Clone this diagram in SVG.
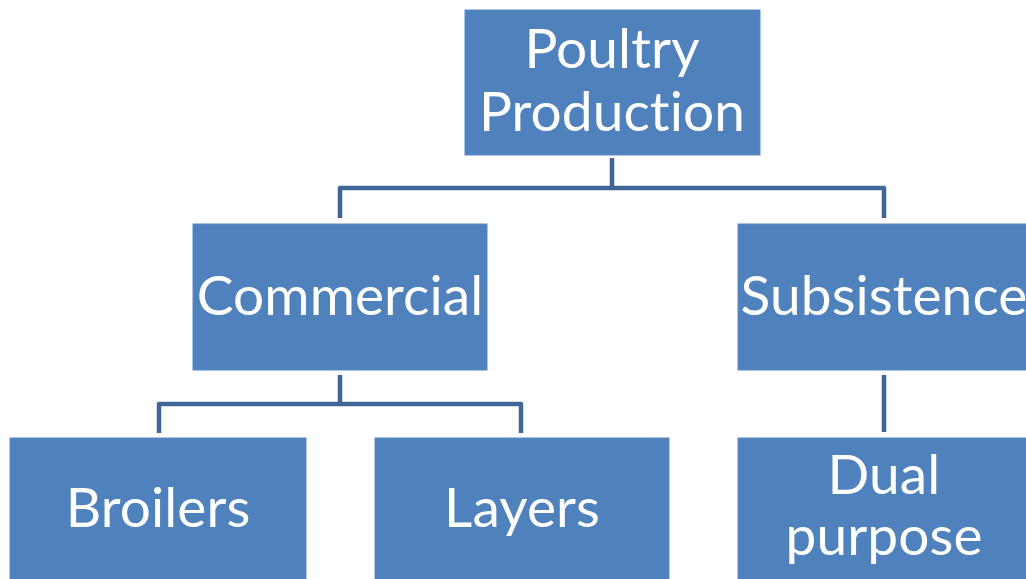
<svg xmlns="http://www.w3.org/2000/svg" width="1026" height="579" viewBox="0 0 1026 579">
<style>
.box{fill:#4f81bd;stroke:#5a8ac4;stroke-width:1}
.t{fill:#ffffff;font-family:Lato,"Open Sans","Liberation Sans",sans-serif;font-size:55px;text-anchor:middle;font-variant-ligatures:none;font-feature-settings:"liga" 0,"clig" 0,"dlig" 0;letter-spacing:0.1px}
.c{fill:none;stroke:#3e6797;stroke-width:4.5;stroke-linejoin:round}
</style>
<rect width="1026" height="579" fill="#ffffff"/>
<g id="connectors">
<path class="c" d="M612,158 V188 M340,218 V188 H884 V218"/>
<path class="c" d="M340,375 V404 M159,433 V404 H521 V433"/>
<path class="c" d="M884,375 V432"/>
</g>
<g id="poultry-production">
<rect class="box" x="465" y="10" width="295" height="145"/>
<text class="t" x="612" y="68">Poultry</text>
<text class="t" x="612" y="131">Production</text>
</g>
<g id="commercial">
<rect class="box" x="193" y="224" width="294" height="146"/>
<text class="t" x="340" y="315">Commercial</text>
</g>
<g id="subsistence">
<rect class="box" x="738" y="224" width="292" height="146"/>
<text class="t" x="884" y="315">Subsistence</text>
</g>
<g id="broilers">
<rect class="box" x="10" y="438" width="296" height="146"/>
<text class="t" x="158" y="527">Broilers</text>
</g>
<g id="layers">
<rect class="box" x="375" y="438" width="294" height="146"/>
<text class="t" x="522" y="527">Layers</text>
</g>
<g id="dual-purpose">
<rect class="box" x="738" y="438" width="292" height="146"/>
<text class="t" x="884" y="494">Dual</text>
<text class="t" x="884" y="555">purpose</text>
</g>
</svg>
